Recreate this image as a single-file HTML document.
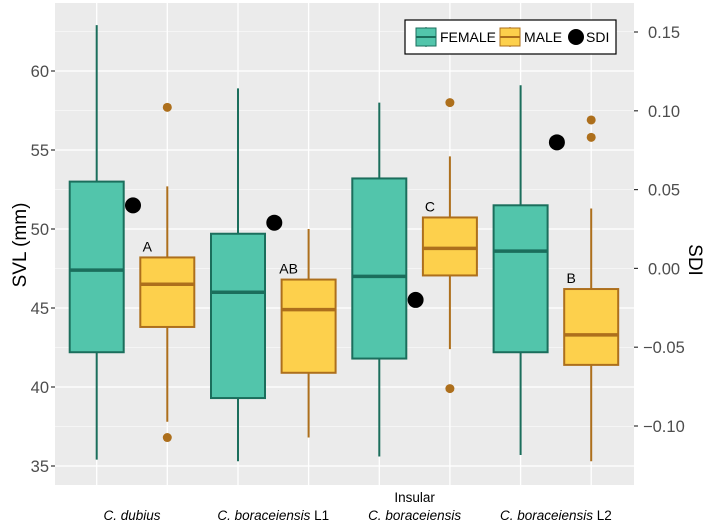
<!DOCTYPE html>
<html><head><meta charset="utf-8"><style>
body{margin:0;background:#fff;}
svg text{font-family:"Liberation Sans",sans-serif;}
</style></head><body>
<svg id="c" width="709" height="526" xmlns="http://www.w3.org/2000/svg"></svg>
<script>
const groups=["C. dubius","C. boraceiensis L1","C. boraceiensis","C. boraceiensis L2"];
const femaleStats=[[35.4,42.2,47.4,53.0,62.9],[35.3,39.3,46.0,49.7,58.9],[35.6,41.8,47.0,53.2,58.0],[35.7,42.2,48.6,51.5,59.1]];
const maleStats=[[37.8,43.8,46.5,48.2,52.7],[36.8,40.9,44.9,46.8,50.0],[42.4,47.06,48.77,50.73,54.6],[35.3,41.4,43.3,46.2,51.3]];
const maleOutliers=[[57.7,36.8],[],[58.0,39.9],[56.9,55.8]];
const femaleOutliers=[[],[],[],[]];
const sdiValues=[0.040,0.029,-0.020,0.080];
const letters=["A","AB","C","B"];
const leftTicks=[35,40,45,50,55,60];
const rightTicks=[-0.10,-0.05,0.00,0.05,0.10,0.15];
const rightTickLabels=["\u22120.10","\u22120.05","0.00","0.05","0.10","0.15"];

const NS="http://www.w3.org/2000/svg";
const svg=document.getElementById('c');
const PL=55,PR=634,PT=3,PB=485;
const yL=v=>466-(v-35)*15.8;
const yR=v=>426-(v+0.10)*1576;
const xG=i=>132+i*141.3;
function el(t,a,p){const e=document.createElementNS(NS,t);for(const k in a)e.setAttribute(k,a[k]);(p||svg).appendChild(e);return e;}

const bg=el('rect',{x:PL,y:PT,width:PR-PL,height:PB-PT,fill:'#ebebeb'});


for(let i=0;i<leftTicks.length;i++){
  const v=leftTicks[i]+2.5;const y=yL(v);
  if(y>PT){const g=el('line',{x1:PL,x2:PR,y1:y,y2:y,stroke:'#fff','stroke-width':0.6});
  
  }
}
leftTicks.forEach(v=>{const y=yL(v);
  const g=el('line',{x1:PL,x2:PR,y1:y,y2:y,stroke:'#fff','stroke-width':1.3});
  
  
  const t=el('line',{x1:PL-4,x2:PL,y1:y,y2:y,stroke:'#333','stroke-width':1.2});
  
  
  const l=el('text',{x:PL-6,y:y+6,'text-anchor':'end','font-size':16.5,fill:'#4d4d4d'});l.textContent=v;
  
  
});
rightTicks.forEach((v,i)=>{const y=yR(v);
  const t=el('line',{x1:PR,x2:PR+4,y1:y,y2:y,stroke:'#333','stroke-width':1.2});
  
  
  const l=el('text',{x:PR+(v<0?9:14),y:y+6,'font-size':16.5,fill:'#4d4d4d'});l.textContent=rightTickLabels[i];
  
  
});
groups.forEach((g,i)=>{[-35.3,35.3].forEach(d=>{
  const l=el('line',{x1:xG(i)+d,x2:xG(i)+d,y1:PT,y2:PB,stroke:'#fff','stroke-width':1.3});
  
  });});

function box(x,s,fill,stroke,name){
  const grp=el('g',{});
  
  
  el('line',{x1:x,x2:x,y1:yL(s[4]),y2:yL(s[0]),stroke:stroke,'stroke-width':2},grp);
  el('rect',{x:x-27,y:yL(s[3]),width:54,height:yL(s[1])-yL(s[3]),fill:fill,stroke:stroke,'stroke-width':2},grp);
  el('line',{x1:x-27,x2:x+27,y1:yL(s[2]),y2:yL(s[2]),stroke:stroke,'stroke-width':3.5},grp);
}
groups.forEach((g,i)=>{
  const xf=xG(i)-35.3,xm=xG(i)+35.3;
  box(xf,femaleStats[i],'#52c5ab','#1b6e5c','female-box-'+(i+1));
  box(xm,maleStats[i],'#fdd04c','#ad6f1c','male-box-'+(i+1));
  maleOutliers[i].forEach(v=>{const c=el('circle',{cx:xm,cy:yL(v),r:4.5,fill:'#ad6f1c'});
    
    });
  femaleOutliers[i].forEach(v=>{const c=el('circle',{cx:xf,cy:yL(v),r:4.5,fill:'#1b6e5c'});
    
    });
  const s=el('circle',{cx:xG(i)+1,cy:yR(sdiValues[i]),r:8,fill:'#000'});
  
  
  const t=el('text',{x:xm-20,y:yL(maleStats[i][3])-6,'text-anchor':'middle','font-size':14,fill:'#000'});
  t.textContent=letters[i];
  
  
  const xl=el('text',{x:xG(i),y:520,'text-anchor':'middle','font-size':13.5,fill:'#000'});
  const sp=el('tspan',{'font-style':'italic'},xl);
  const parts=g.split(' ');
  if(parts.length===3){sp.textContent=parts[0]+' '+parts[1];const s2=el('tspan',{},xl);s2.textContent=' '+parts[2];}
  else sp.textContent=g;
  
  
  if(i===2){const ins=el('text',{x:xG(i),y:502,'text-anchor':'middle','font-size':13.5,fill:'#000'});ins.textContent='Insular';
    
    }
});
const yt=el('text',{x:0,y:0,transform:'translate(26,245) rotate(-90)','text-anchor':'middle','font-size':19,fill:'#000'});yt.textContent='SVL (mm)';


const yt2=el('text',{x:0,y:0,transform:'translate(689,260) rotate(90)','text-anchor':'middle','font-size':19,fill:'#000'});yt2.textContent='SDI';


const lg=el('g',{});


el('rect',{x:405,y:20,width:211,height:34,fill:'#fff',stroke:'#000','stroke-width':1.2},lg);
function lkey(x,fill,stroke,label){
  el('line',{x1:x+10,x2:x+10,y1:27,y2:47,stroke:stroke,'stroke-width':1},lg);
  el('rect',{x:x,y:28,width:20,height:18,fill:fill,stroke:stroke,'stroke-width':1},lg);
  el('line',{x1:x,x2:x+20,y1:37,y2:37,stroke:stroke,'stroke-width':2},lg);
  const t=el('text',{x:x+24,y:42,'font-size':14,fill:'#000'},lg);t.textContent=label;
}
lkey(416,'#52c5ab','#1b6e5c','FEMALE');
lkey(500,'#fdd04c','#ad6f1c','MALE');
el('circle',{cx:576,cy:37,r:8,fill:'#000'},lg);
const st=el('text',{x:586,y:42,'font-size':14,fill:'#000'},lg);st.textContent='SDI';
</script>
</body></html>
